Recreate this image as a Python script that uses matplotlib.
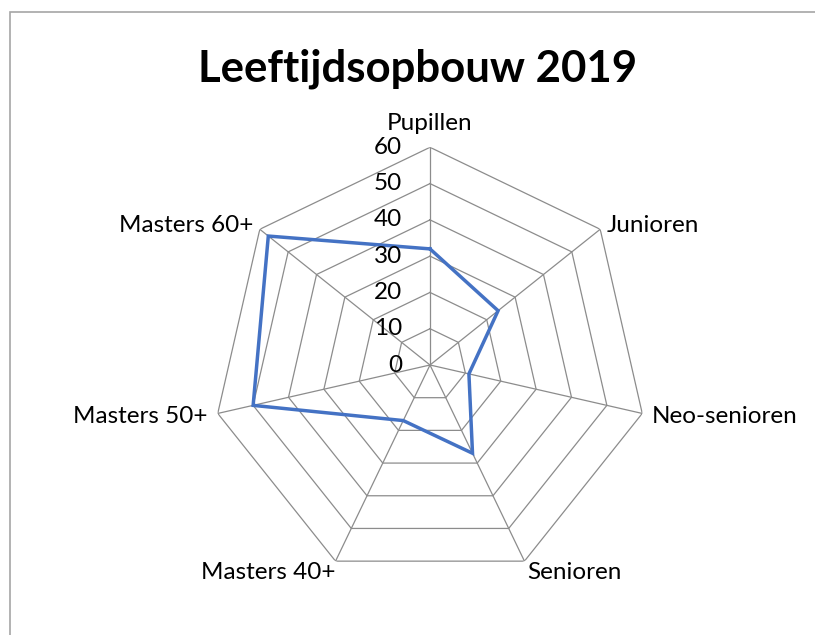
import numpy as np
import matplotlib
matplotlib.use("Agg")
import matplotlib.pyplot as plt
from matplotlib.patches import Rectangle

categories = ["Pupillen", "Junioren", "Neo-senioren", "Senioren", "Masters 40+", "Masters 50+", "Masters 60+"]
values = [32, 24, 11, 27, 17, 50, 57]
rings = [0, 10, 20, 30, 40, 50, 60]
ring_labels = ["0", "10", "20", "30", "40", "50", "60"]
title = "Leeftijdsopbouw 2019"

plt.rcParams['font.family'] = ['Lato', 'DejaVu Sans']

W, H, DPI = 815, 635, 100
fig = plt.figure(figsize=(W / DPI, H / DPI), dpi=DPI)
fig.patch.set_facecolor("white")

# chart area border
fig.add_artist(Rectangle((10 / W, -0.1), 1.2, (H - 12) / H + 0.1, transform=fig.transFigure,
                         fill=False, edgecolor="#A6A6A6", linewidth=1.2))

cx, cy, R = 430, 365, 217.7
ax = fig.add_axes([(cx - R) / W, (H - cy - R) / H, 2 * R / W, 2 * R / H], projection="polar")
ax.set_theta_offset(np.pi / 2)
ax.set_theta_direction(-1)
ax.set_ylim(0, 60)
ax.grid(False)
ax.spines["polar"].set_visible(False)
ax.set_xticks([])
ax.set_yticks([])
ax.patch.set_alpha(0)

n = len(categories)
theta = np.arange(n) * 2 * np.pi / n
tc = np.append(theta, theta[0])

grid_col = "#8C8C8C"
for r in rings[1:]:
    ax.plot(tc, [r] * (n + 1), color=grid_col, lw=0.9, zorder=1)
for t in theta:
    ax.plot([t, t], [0, rings[-1]], color=grid_col, lw=0.9, zorder=1)

vc = values + [values[0]]
ax.plot(tc, vc, color="#4472C4", lw=2.5, zorder=3, solid_joinstyle="miter")

# category labels (offset pixels from outer vertex)
offsets = [(0, 24, "center"), (6, 4, "left"), (9.5, -3.5, "left"), (2.5, -11, "left"),
           (0, -11, "right"), (-10, -3.5, "right"), (-6, 4, "right")]
fs = 17.5
for t, lab, (dx, dy, ha) in zip(theta, categories, offsets):
    ax.annotate(lab, xy=(t, rings[-1]), xytext=(dx, dy), textcoords="offset pixels",
                ha=ha, va="center", fontsize=fs, color="#000000", annotation_clip=False)

for r, lab in zip(rings, ring_labels):
    ax.annotate(lab, xy=(0, r), xytext=(-28, 0), textcoords="offset pixels",
                ha="right", va="center", fontsize=fs, color="#000000", annotation_clip=False)

fig.text(418 / W, 1 - 69 / H, title, ha="center", va="center", fontsize=31.5, fontweight="bold")

fig.savefig("out.png", dpi=DPI)
